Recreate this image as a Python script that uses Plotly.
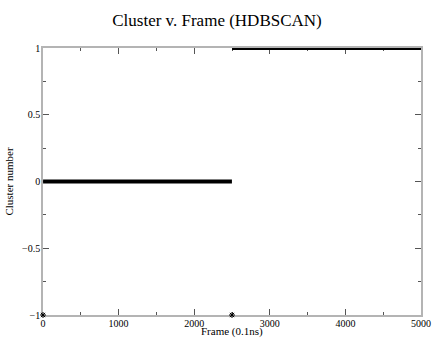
import plotly.graph_objects as go

# Cluster segments (frames, cluster id)
seg_start = [1, 2501]
seg_end = [2499, 5000]
seg_cluster = [0, 1]

# Noise frames (cluster -1)
noise_frames = [0, 2500]
noise_cluster = [-1, -1]

xs, ys = [], []
for s, e, c in zip(seg_start, seg_end, seg_cluster):
    xs += [s, e, None]
    ys += [c, c, None]

fig = go.Figure()
fig.add_trace(go.Scatter(x=xs, y=ys, mode="lines",
                         line=dict(color="black", width=4),
                         cliponaxis=False, hoverinfo="skip"))
fig.add_trace(go.Scatter(x=noise_frames, y=noise_cluster, mode="markers",
                         marker=dict(symbol="asterisk-open", size=5, color="black",
                                     line=dict(color="black", width=1)),
                         cliponaxis=False))

font = "Liberation Serif"
axis_common = dict(showline=True, linecolor="#b4b4b4", linewidth=1.5,
                   mirror="allticks", ticks="inside", ticklen=6,
                   tickcolor="#555555", tickwidth=1, showgrid=False,
                   zeroline=False, layer="below traces", automargin=False,
                   tickfont=dict(family=font, size=10, color="black"))

fig.update_layout(
    width=434, height=339,
    margin=dict(l=43, r=13, t=48, b=24),
    paper_bgcolor="white", plot_bgcolor="white",
    showlegend=False,
    font=dict(family=font, color="black"),
    title=dict(text="Cluster v. Frame (HDBSCAN)", x=0.5, xanchor="center",
               y=0.94, yanchor="middle",
               font=dict(family=font, size=17, color="black")),
    xaxis=dict(range=[0, 5000], tickmode="linear", tick0=0, dtick=1000,
               ticklabelstandoff=-2,
               minor=dict(dtick=500, ticklen=3, ticks="inside",
                          tickcolor="#555555"),
               **axis_common),
    yaxis=dict(range=[-1, 1], tickmode="linear", tick0=-1, dtick=0.5,
               ticklabelstandoff=-1,
               minor=dict(dtick=0.25, ticklen=3, ticks="inside",
                          tickcolor="#555555"),
               title=dict(text="Cluster number", standoff=6,
                          font=dict(family=font, size=11, color="black")),
               **axis_common),
    annotations=[dict(text="Frame (0.1ns)", xref="paper", yref="paper",
                      x=0.5, y=-0.06, xanchor="center", yanchor="middle",
                      showarrow=False,
                      font=dict(family=font, size=11, color="black"))],
)

fig.write_html("out.html")
